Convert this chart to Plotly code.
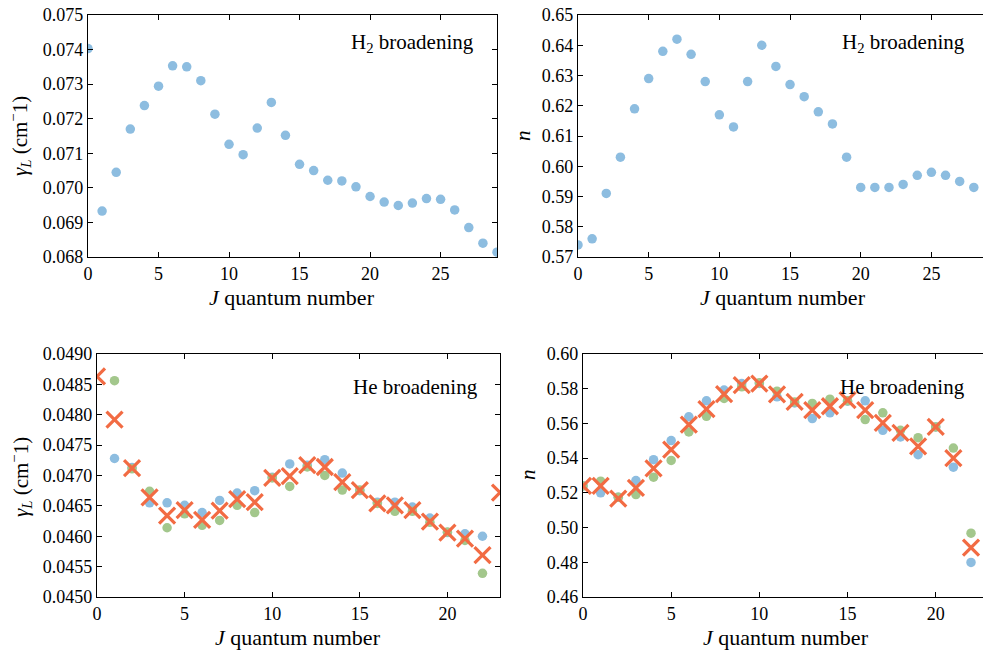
import plotly.graph_objects as go

# ---------------- data ----------------
J_h2 = list(range(0, 30))
gamma_h2 = [0.07403, 0.06933, 0.07045, 0.07170, 0.07238, 0.07294, 0.07353, 0.07350,
            0.07310, 0.07213, 0.07126, 0.07096, 0.07173, 0.07247, 0.07152, 0.07068,
            0.07050, 0.07022, 0.07020, 0.07003, 0.06975, 0.06959, 0.06949, 0.06956,
            0.06969, 0.06967, 0.06936, 0.06885, 0.06840, 0.06814]
J_h2_n = list(range(0, 29))
n_h2 = [0.574, 0.576, 0.591, 0.603, 0.619, 0.629, 0.638, 0.642, 0.637, 0.628,
        0.617, 0.613, 0.628, 0.640, 0.633, 0.627, 0.623, 0.618, 0.614, 0.603,
        0.593, 0.593, 0.593, 0.594, 0.597, 0.598, 0.597, 0.595, 0.593]

J_he_dots = list(range(1, 23))
gamma_he_blue = [0.04728, 0.04713, 0.04655, 0.04655, 0.04651, 0.04639, 0.04659, 0.04671,
                 0.04675, 0.04697, 0.04719, 0.04717, 0.04726, 0.04704, 0.04675, 0.04656,
                 0.04656, 0.04648, 0.04630, 0.04606, 0.04604, 0.04600]
gamma_he_green = [0.04856, 0.04711, 0.04674, 0.04614, 0.04637, 0.04618, 0.04626, 0.04651,
                  0.04639, 0.04696, 0.04682, 0.04714, 0.04700, 0.04676, 0.04676, 0.04654,
                  0.04641, 0.04641, 0.04623, 0.04607, 0.04593, 0.04539]
J_he_x = list(range(0, 24))
gamma_he_x = [0.04863, 0.04792, 0.04712, 0.04664, 0.04634, 0.04643, 0.04627, 0.04642,
              0.04661, 0.04656, 0.04696, 0.04699, 0.04717, 0.04714, 0.04689, 0.04676,
              0.04654, 0.04651, 0.04643, 0.04624, 0.04606, 0.04596, 0.04569, 0.04672]

J_he_n = list(range(0, 23))
n_he_blue = [0.5240, 0.5200, 0.5175, 0.5271, 0.5391, 0.5501, 0.5638, 0.5730, 0.5792,
             0.5830, 0.5830, 0.5753, 0.5718, 0.5628, 0.5661, 0.5728, 0.5730, 0.5560,
             0.5522, 0.5420, 0.5580, 0.5348, 0.4799]
n_he_green = [0.5240, 0.5267, 0.5175, 0.5190, 0.5290, 0.5387, 0.5551, 0.5641, 0.5744,
              0.5811, 0.5834, 0.5786, 0.5724, 0.5715, 0.5740, 0.5730, 0.5622, 0.5661,
              0.5560, 0.5518, 0.5580, 0.5458, 0.4968]
J_he_n_x = list(range(0, 24))
n_he_x = [0.5240, 0.5240, 0.5167, 0.5229, 0.5341, 0.5449, 0.5593, 0.5682, 0.5769,
          0.5821, 0.5830, 0.5767, 0.5724, 0.5676, 0.5699, 0.5734, 0.5676, 0.5603,
          0.5545, 0.5468, 0.5580, 0.5400, 0.4885, 0.5520]

yticks_tl = [0.068, 0.069, 0.070, 0.071, 0.072, 0.073, 0.074, 0.075]
yticks_tr = [0.57, 0.58, 0.59, 0.60, 0.61, 0.62, 0.63, 0.64, 0.65]
yticks_bl = [0.0450, 0.0455, 0.0460, 0.0465, 0.0470, 0.0475, 0.0480, 0.0485, 0.0490]
yticks_br = [0.46, 0.48, 0.50, 0.52, 0.54, 0.56, 0.58, 0.60]
xticks = [0, 5, 10, 15, 20, 25]

# ---------------- style ----------------
W, H = 983, 655
BLUE = "#8dbde0"
GREEN = "#a3c78c"
RED = "#f26b43"
FONT = "Liberation Serif"
TICKSIZE = 18


def px_x(p):
    return p / W


def px_y(p):
    return 1 - p / H


fig = go.Figure()


def dots(x, y, color, xa, ya, clip=True):
    fig.add_trace(go.Scatter(x=x, y=y, mode="markers", xaxis=xa, yaxis=ya,
                             cliponaxis=clip,
                             marker=dict(size=9.5, color=color, line=dict(width=0)),
                             showlegend=False, hoverinfo="skip"))


def crosses(x, y, xa, ya, clip=True):
    fig.add_trace(go.Scatter(x=x, y=y, mode="markers", xaxis=xa, yaxis=ya,
                             cliponaxis=clip,
                             marker=dict(symbol="x-thin", size=16, color=RED,
                                         line=dict(width=3.2, color=RED)),
                             showlegend=False, hoverinfo="skip"))


# top-left
dots(J_h2, gamma_h2, BLUE, "x", "y")
# top-right
dots(J_h2_n, n_h2, BLUE, "x2", "y2")
# bottom-left
dots(J_he_dots, gamma_he_blue, BLUE, "x3", "y3")
dots(J_he_dots, gamma_he_green, GREEN, "x3", "y3")
crosses(J_he_x, gamma_he_x, "x3", "y3")
# bottom-right
dots(J_he_n, n_he_blue, BLUE, "x4", "y4")
dots(J_he_n, n_he_green, GREEN, "x4", "y4")
crosses(J_he_n_x[:-1], n_he_x[:-1], "x4", "y4")
crosses(J_he_n_x[-1:], n_he_x[-1:], "x4", "y4", clip=False)

tickfont = dict(family=FONT, size=TICKSIZE, color="black")


def xax(domain, rng, anchor):
    return dict(domain=domain, range=rng, anchor=anchor, tickmode="array",
                tickvals=xticks, ticktext=[str(v) for v in xticks],
                ticks="inside", ticklen=5, tickwidth=1, tickcolor="black",
                showline=True, linecolor="black", linewidth=1.3, mirror="ticks",
                showgrid=False, zeroline=False, tickfont=tickfont, automargin=False)


def yax(domain, rng, anchor, vals, fmt, mirror):
    return dict(domain=domain, range=rng, anchor=anchor, tickmode="array",
                tickvals=vals, ticktext=[fmt.format(v) for v in vals],
                ticks="inside", ticklen=5, tickwidth=1, tickcolor="black",
                showline=True, linecolor="black", linewidth=1.3, mirror=mirror,
                showgrid=False, zeroline=False, tickfont=tickfont, automargin=False)


top_y = [px_y(257), px_y(15)]
bot_y = [px_y(597), px_y(354)]

gamma_title = "<i>γ<sub>L</sub></i> (cm<sup>−</sup>1)"
n_title = "<i>n</i>"
x_title = "<i>J</i> quantum number"

fig.update_layout(
    template="none",
    width=W, height=H,
    margin=dict(l=0, r=0, t=0, b=0, pad=0),
    paper_bgcolor="white", plot_bgcolor="white",
    font=dict(family=FONT, color="black"),
    xaxis=xax([px_x(88), px_x(497)], [0, 29], "y"),
    yaxis=yax(top_y, [0.068, 0.075], "x", yticks_tl, "{:.3f}", "ticks"),
    xaxis2=xax([px_x(578), 1.0], [0, 28.65], "y2"),
    yaxis2=yax(top_y, [0.57, 0.65], "x2", yticks_tr, "{:.2f}", False),
    xaxis3=xax([px_x(97), px_x(500)], [0, 23], "y3"),
    yaxis3=yax(bot_y, [0.045, 0.049], "x3", yticks_bl, "{:.4f}", "ticks"),
    xaxis4=xax([px_x(583), 1.0], [0, 22.68], "y4"),
    yaxis4=yax(bot_y, [0.46, 0.60], "x4", yticks_br, "{:.2f}", False),
)

# panel labels
labels = [
    ("H<sub>2</sub> broadening", 476, 43),
    ("H<sub>2</sub> broadening", 967, 43),
    ("He broadening", 480, 387),
    ("He broadening", 967, 387),
]
for text, xr, yc in labels:
    fig.add_annotation(text=text, xref="paper", yref="paper", x=px_x(xr), y=px_y(yc),
                       xanchor="right", yanchor="middle", showarrow=False,
                       font=dict(family=FONT, size=21, color="black"))

# axis titles
x_titles = [(292, 297), (783, 297), (298, 637), (786, 637)]
for xc, yc in x_titles:
    fig.add_annotation(text=x_title, xref="paper", yref="paper", x=px_x(xc), y=px_y(yc),
                       xanchor="center", yanchor="middle", showarrow=False,
                       font=dict(family=FONT, size=22, color="black"))

y_titles = [(gamma_title, 20, 136), (n_title, 523, 136),
            (gamma_title, 20, 477), (n_title, 528, 475)]
for text, xc, yc in y_titles:
    fig.add_annotation(text=text, xref="paper", yref="paper", x=px_x(xc), y=px_y(yc),
                       xanchor="center", yanchor="middle", showarrow=False, textangle=-90,
                       font=dict(family=FONT, size=21, color="black"))

fig.write_html("out.html")
